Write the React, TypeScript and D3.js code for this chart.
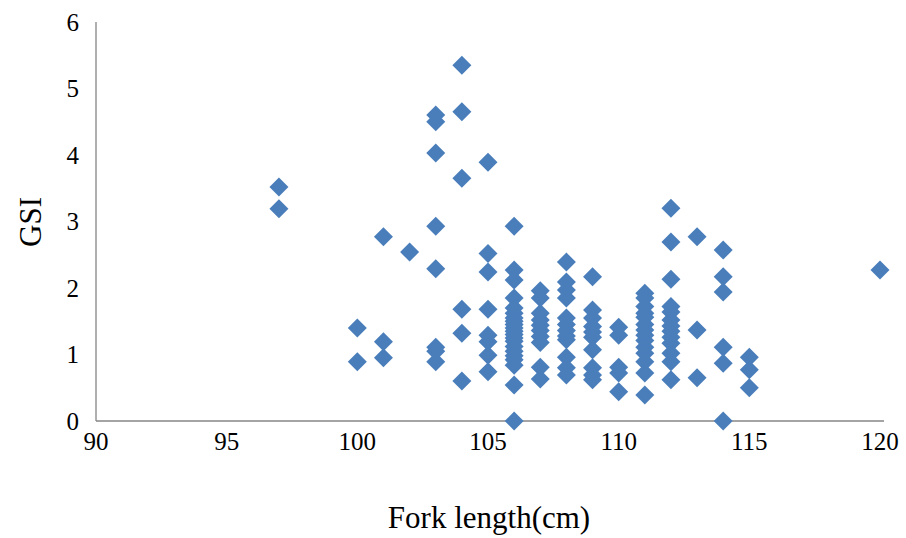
import React from "react";
import * as d3 from "d3";

const forkLength: number[] = [
  97, 97,
  100, 100,
  101, 101, 101,
  102,
  103, 103, 103, 103, 103, 103, 103, 103,
  104, 104, 104, 104, 104, 104,
  105, 105, 105, 105, 105, 105, 105, 105,
  106, 106, 106, 106, 106, 106, 106, 106, 106, 106, 106, 106, 106, 106, 106, 106, 106, 106, 106, 106, 106,
  107, 107, 107, 107, 107, 107, 107, 107, 107, 107,
  108, 108, 108, 108, 108, 108, 108, 108, 108, 108, 108, 108,
  109, 109, 109, 109, 109, 109, 109, 109, 109, 109,
  110, 110, 110, 110, 110,
  111, 111, 111, 111, 111, 111, 111, 111, 111, 111, 111, 111, 111, 111,
  112, 112, 112, 112, 112, 112, 112, 112, 112, 112, 112, 112, 112,
  113, 113, 113,
  114, 114, 114, 114, 114, 114,
  115, 115, 115,
  120,
];

const gsi: number[] = [
  3.52, 3.19,
  1.40, 0.89,
  2.77, 1.19, 0.95,
  2.54,
  4.60, 4.50, 4.03, 2.93, 2.29, 1.11, 1.05, 0.89,
  5.35, 4.65, 3.65, 1.68, 1.32, 0.60,
  3.89, 2.52, 2.24, 1.68, 1.29, 1.19, 0.99, 0.74,
  2.93, 2.27, 2.12, 1.85, 1.70, 1.62, 1.55, 1.50, 1.45, 1.40, 1.35, 1.30, 1.25, 1.20, 1.12, 1.05, 0.98, 0.92, 0.84, 0.54, 0.0,
  1.96, 1.85, 1.62, 1.52, 1.44, 1.36, 1.27, 1.18, 0.81, 0.63,
  2.39, 2.09, 1.97, 1.85, 1.55, 1.45, 1.36, 1.28, 1.22, 0.96, 0.80, 0.69,
  2.17, 1.67, 1.55, 1.42, 1.34, 1.26, 1.07, 0.80, 0.69, 0.62,
  1.41, 1.29, 0.81, 0.72, 0.44,
  1.92, 1.85, 1.72, 1.62, 1.56, 1.37, 1.29, 1.21, 1.11, 1.02, 0.89, 0.72, 0.39, 1.45,
  3.20, 2.69, 2.13, 1.72, 1.64, 1.52, 1.43, 1.35, 1.26, 1.17, 1.02, 0.89, 0.62,
  2.77, 1.37, 0.65,
  2.57, 2.17, 1.94, 1.11, 0.87, 0.0,
  0.96, 0.77, 0.50,
  2.27,
];

const xTicks: number[] = [90, 95, 100, 105, 110, 115, 120];
const yTicks: number[] = [0, 1, 2, 3, 4, 5, 6];

export default function App() {
  const W = 906;
  const H = 538;
  const x = d3.scaleLinear().domain([90, 120]).range([96, 880]);
  const y = d3.scaleLinear().domain([0, 6]).range([421, 22]);
  const r = 9.5;
  const font = "'Liberation Serif', 'Times New Roman', serif";
  const pts = forkLength.map((f, i) => ({ f, g: gsi[i] }));

  return (
    <svg
      width={W}
      height={H}
      style={{ position: "absolute", left: 0, top: 0, background: "#fff" }}
      fontFamily={font}
    >
      <line x1={x(90)} x2={x(90)} y1={y(6)} y2={y(0)} stroke="#868686" strokeWidth={1.3} />
      <line x1={x(90)} x2={x(120) + 4} y1={y(0)} y2={y(0)} stroke="#868686" strokeWidth={1.3} />
      {yTicks.map((t) => (
        <text key={"y" + t} x={79} y={y(t)} textAnchor="end" dominantBaseline="central" fontSize={25} fill="#000">
          {t}
        </text>
      ))}
      {xTicks.map((t) => (
        <text key={"x" + t} x={x(t)} y={450} textAnchor="middle" fontSize={25} fill="#000">
          {t}
        </text>
      ))}
      <text x={489} y={528} textAnchor="middle" fontSize={31} fill="#000">
        Fork length(cm)
      </text>
      <text
        transform={`translate(41, ${222}) rotate(-90)`}
        textAnchor="middle"
        fontSize={31}
        fill="#000"
      >
        GSI
      </text>
      {pts.map((p, i) => {
        const cx = x(p.f);
        const cy = y(p.g);
        return (
          <path
            key={i}
            d={`M${cx},${cy - r}L${cx + r},${cy}L${cx},${cy + r}L${cx - r},${cy}Z`}
            fill="#4a7ebb"
          />
        );
      })}
    </svg>
  );
}
